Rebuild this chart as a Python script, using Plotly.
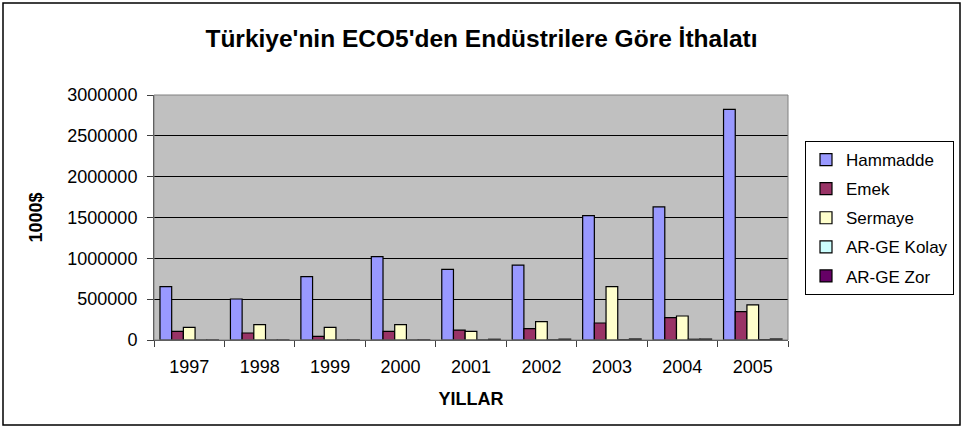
import plotly.graph_objects as go

years = ["1997", "1998", "1999", "2000", "2001", "2002", "2003", "2004", "2005"]
hammadde = [653000, 502000, 775000, 1020000, 865000, 918000, 1522000, 1629000, 2825000]
emek = [106000, 86000, 45000, 106000, 122000, 139000, 208000, 273000, 347000]
sermaye = [155000, 188000, 155000, 188000, 106000, 224000, 653000, 294000, 429000]
arge_kolay = [500, 600, 700, 900, 2000, 3000, 4000, 9000, 5000]
arge_zor = [1000, 1000, 1500, 2000, 9000, 10000, 12000, 11000, 12000]

series = [
    ("Hammadde", hammadde, "#9999FF"),
    ("Emek", emek, "#993366"),
    ("Sermaye", sermaye, "#FFFFCC"),
    ("AR-GE Kolay", arge_kolay, "#CCFFFF"),
    ("AR-GE Zor", arge_zor, "#660066"),
]

font_family = "Liberation Sans, Arial, sans-serif"

fig = go.Figure()
for i, (name, vals, color) in enumerate(series):
    fig.add_trace(go.Bar(
        x=years, y=vals, name=name, legendgroup=str(i),
        marker=dict(color=color, line=dict(color="black", width=1.2)),
    ))

L, R, T, B = 154, 175, 95, 89
W, H = 963, 429
pw, ph = W - L - R, H - T - B

def px_x(p):
    return (p - L) / pw

def px_y(p):
    return (H - B - p) / ph

fig.update_layout(
    width=W, height=H,
    margin=dict(l=L, r=R, t=T, b=B, autoexpand=False),
    paper_bgcolor="white",
    plot_bgcolor="#C0C0C0",
    font=dict(family=font_family, size=18, color="black"),
    barmode="group",
    bargap=0.17,
    bargroupgap=0,
    title=dict(
        text="<b>Türkiye'nin ECO5'den Endüstrilere Göre İthalatı</b>",
        x=0.5, xanchor="center", xref="container",
        y=1 - 38 / H, yanchor="middle",
        font=dict(size=24.5, family=font_family, color="black"),
    ),
    showlegend=True,
    legend=dict(
        x=px_x(805), y=px_y(141), xanchor="left", yanchor="top",
        bgcolor="white", bordercolor="black", borderwidth=1,
        font=dict(size=17, family=font_family),
        tracegroupgap=4,
        traceorder="grouped",
        itemwidth=30,
    ),
    xaxis=dict(
        type="category",
        showgrid=False,
        showline=True, linecolor="#404040", linewidth=1,
        ticks="outside", ticklen=6, tickcolor="#404040",
        tickson="boundaries",
        tickfont=dict(size=18),
        ticklabelstandoff=10,
        title=dict(text="<b>YILLAR</b>", font=dict(size=18), standoff=16),
    ),
    yaxis=dict(
        range=[0, 3000000],
        dtick=500000,
        tickformat="d",
        showgrid=True, gridcolor="black", gridwidth=1,
        showline=True, linecolor="#404040", linewidth=1,
        ticks="outside", ticklen=6, tickcolor="#404040",
        tickfont=dict(size=18),
        ticklabelstandoff=6,
        zeroline=False,
        title=dict(text="<b>1000$</b>", font=dict(size=18), standoff=20),
    ),
    shapes=[
        dict(type="rect", xref="paper", yref="paper",
             x0=0, x1=1, y0=0, y1=1,
             line=dict(color="#808080", width=1), fillcolor="rgba(0,0,0,0)",
             layer="above"),
        dict(type="rect", xref="paper", yref="paper",
             x0=px_x(3), x1=px_x(960), y0=px_y(425), y1=px_y(3),
             line=dict(color="black", width=1.5), fillcolor="rgba(0,0,0,0)"),
    ],
)

fig.write_html("out.html", config={"displayModeBar": False},
               post_script="document.body.style.margin='0';")
